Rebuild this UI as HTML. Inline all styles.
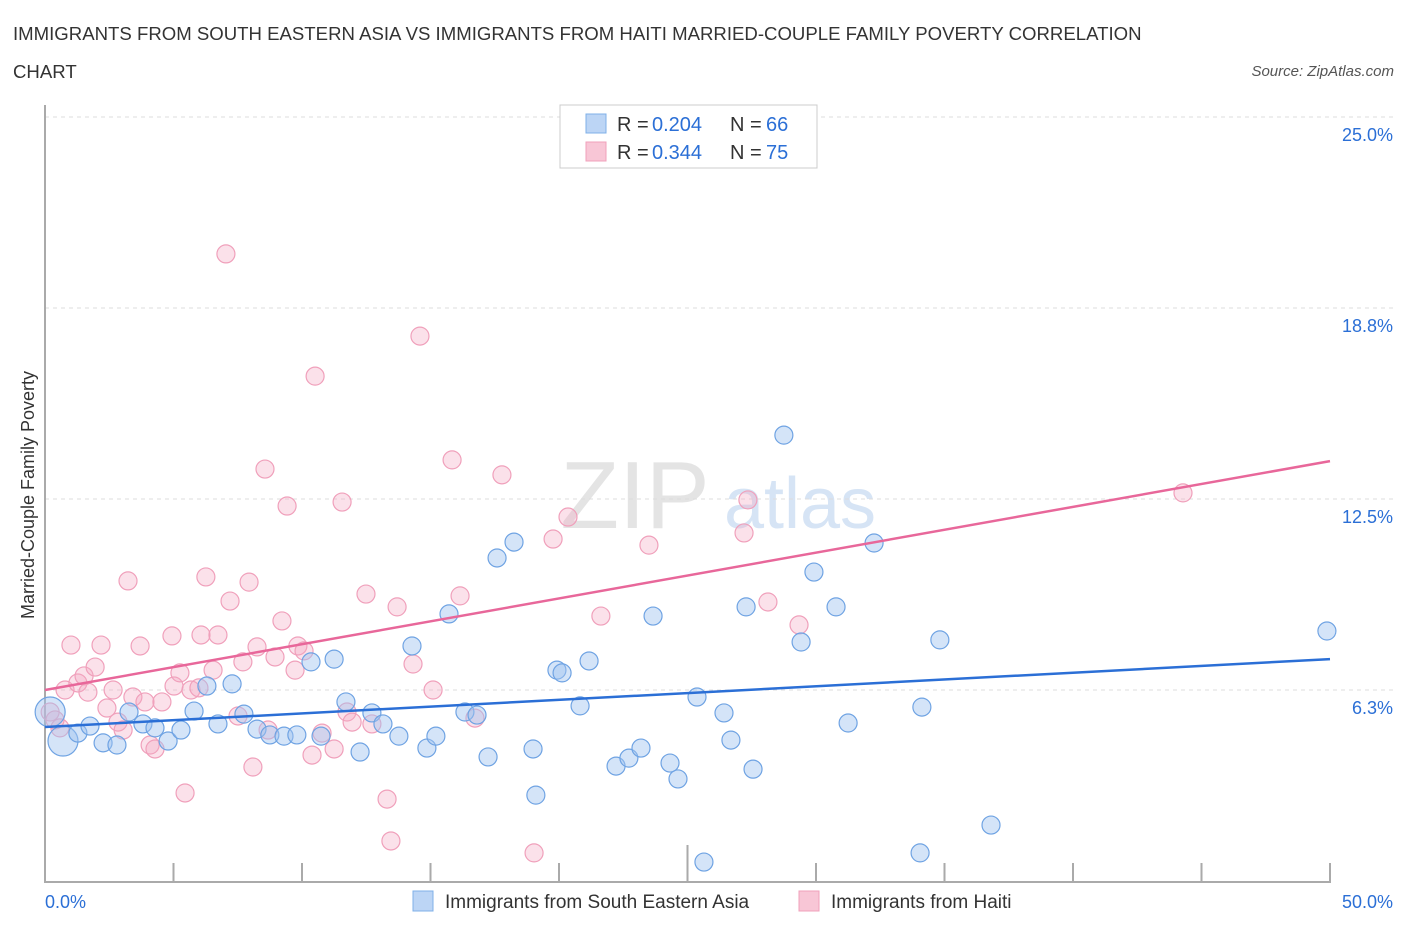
<!DOCTYPE html>
<html><head><meta charset="utf-8"><style>
body{margin:0;background:#fff;font-family:"Liberation Sans",sans-serif;}
svg text{font-family:"Liberation Sans",sans-serif;}
</style></head><body>
<svg id="chart" width="1406" height="930">
<text x="13" y="40" font-size="18.6" fill="#333">IMMIGRANTS FROM SOUTH EASTERN ASIA VS IMMIGRANTS FROM HAITI MARRIED-COUPLE FAMILY POVERTY CORRELATION</text>
<text x="13" y="78" font-size="18.6" fill="#333">CHART</text>
<text x="1394" y="76" font-size="15" fill="#555" font-style="italic" text-anchor="end">Source: ZipAtlas.com</text>
<text x="635" y="528" font-size="96" fill="#e4e4e4" font-family="Liberation Serif" text-anchor="middle">ZIP</text>
<text x="800" y="528" font-size="72" fill="#d6e4f5" text-anchor="middle">atlas</text>
<text transform="translate(34,495) rotate(-90)" font-size="18" fill="#333" text-anchor="middle">Married-Couple Family Poverty</text>
<g id="grid"></g><g id="axes"></g><g id="pts"></g><g id="lines"></g>
<g>
<rect x="560" y="105" width="257" height="63" fill="#fff" stroke="#ccc"/>
<rect x="586" y="114" width="20" height="19" fill="#bcd5f5" stroke="#7fb0e8"/>
<rect x="586" y="142" width="20" height="19" fill="#f8c6d6" stroke="#f0a0bb"/>
<text x="617" y="131" font-size="20" fill="#333">R =</text>
<text x="652" y="131" font-size="20" fill="#2b6fd6">0.204</text>
<text x="730" y="131" font-size="20" fill="#333">N =</text>
<text x="766" y="131" font-size="20" fill="#2b6fd6">66</text>
<text x="617" y="159" font-size="20" fill="#333">R =</text>
<text x="652" y="159" font-size="20" fill="#2b6fd6">0.344</text>
<text x="730" y="159" font-size="20" fill="#333">N =</text>
<text x="766" y="159" font-size="20" fill="#2b6fd6">75</text>
</g>
<g>
<rect x="413" y="891" width="20" height="20" fill="#bcd5f5" stroke="#7fb0e8"/>
<text x="445" y="908" font-size="19" fill="#333">Immigrants from South Eastern Asia</text>
<rect x="799" y="891" width="20" height="20" fill="#f8c6d6" stroke="#f0a0bb"/>
<text x="831" y="908" font-size="19" fill="#333">Immigrants from Haiti</text>
</g>
</svg>
<script>
const yTicks=[6.25,12.5,18.75,25];
const yTickLabels=["6.3%","12.5%","18.8%","25.0%"];
const xTickVals=[0,5,10,15,20,25,30,35,40,45,50];
const blueX=[0.2,0.7,1.28,1.75,2.26,2.8,3.27,3.81,4.28,4.79,5.29,5.8,6.3,6.73,7.28,7.74,8.25,8.75,9.3,9.8,10.35,10.74,11.25,11.71,12.26,12.72,13.15,13.77,14.28,14.86,15.21,15.72,16.34,16.81,17.24,17.59,18.25,18.99,19.1,19.92,20.12,20.82,21.17,22.22,22.72,23.19,23.66,24.32,24.63,25.37,25.64,26.42,26.69,27.28,27.55,28.75,29.42,29.92,30.78,31.25,32.26,34.05,34.12,34.82,36.81,49.88];
const blueY=[5.53,4.58,4.84,5.07,4.52,4.45,5.53,5.14,5.01,4.58,4.94,5.56,6.38,5.14,6.45,5.46,4.97,4.78,4.74,4.78,7.17,4.74,7.26,5.86,4.22,5.5,5.14,4.74,7.69,4.35,4.74,8.74,5.53,5.43,4.06,10.57,11.09,4.32,2.81,6.9,6.81,5.73,7.2,3.76,4.02,4.35,8.67,3.86,3.34,6.02,0.62,5.5,4.61,8.97,3.66,14.59,7.82,10.11,8.97,5.17,11.06,0.92,5.69,7.89,1.83,8.18];
const pinkX=[0.2,0.39,0.58,0.78,1.01,1.28,1.52,1.67,1.95,2.18,2.41,2.65,2.84,3.04,3.23,3.42,3.7,3.89,4.09,4.28,4.55,4.94,5.02,5.25,5.45,5.68,5.99,6.07,6.26,6.54,6.73,7.04,7.2,7.51,7.7,7.94,8.09,8.25,8.56,8.68,8.95,9.22,9.42,9.73,9.84,10.08,10.39,10.51,10.78,11.25,11.56,11.75,11.95,12.49,12.72,13.31,13.46,13.7,14.32,14.59,15.1,15.84,16.15,16.73,17.78,19.03,19.77,20.35,21.63,23.5,27.2,27.35,28.13,29.34,44.28];
const pinkY=[5.53,5.27,5.01,6.25,7.72,6.48,6.71,6.18,7.0,7.72,5.66,6.25,5.2,4.94,9.82,6.02,7.69,5.86,4.45,4.32,5.86,8.02,6.38,6.81,2.88,6.25,6.32,8.05,9.95,6.9,8.05,20.52,9.16,5.4,7.17,9.78,3.73,7.66,13.48,4.94,7.33,8.51,12.27,6.9,7.69,7.53,4.12,16.52,4.84,4.32,12.4,5.53,5.2,9.39,5.14,2.68,1.31,8.97,7.1,17.83,6.25,13.78,9.33,5.33,13.29,0.92,11.19,11.91,8.67,10.99,11.39,12.47,9.13,8.38,12.7];
const blueLine=[5.04,7.26];
const pinkLine=[6.25,13.74];
const NS="http://www.w3.org/2000/svg";
const X0=45,X1=1330,Y0=881,Y1=117;
const sx=v=>X0+v/50*(X1-X0);
const sy=v=>Y0-v/25*(Y0-Y1);
function mk(t,a,p){const e=document.createElementNS(NS,t);for(const k in a)e.setAttribute(k,a[k]);p.appendChild(e);return e;}
const grid=document.getElementById('grid'),axes=document.getElementById('axes'),pts=document.getElementById('pts'),lines=document.getElementById('lines');
yTicks.forEach((v,i)=>{
 const l=mk('line',{x1:X0,x2:1395,y1:sy(v),y2:sy(v),stroke:'#ddd','stroke-dasharray':'4,4'},grid);
 
 
 const t=mk('text',{x:1393,y:sy(v)+24,'font-size':18,fill:'#2b6fd6','text-anchor':'end'},grid);
 t.textContent=yTickLabels[i];
 
 
});
const ax=mk('path',{d:`M${X0} ${Y1-12}V${Y0+1}H${X1+1}`,fill:'none',stroke:'#aaa','stroke-width':2},axes);


xTickVals.forEach(v=>{
 const tk=mk('line',{x1:sx(v),x2:sx(v),y1:v==25?845:863,y2:Y0,stroke:'#aaa','stroke-width':2},axes);
 
 
});
[[0,'0.0%','start',45],[50,'50.0%','end',1393]].forEach(a=>{
 const t=mk('text',{x:a[3],y:908,'font-size':18,fill:'#2b6fd6','text-anchor':a[2]},axes);
 t.textContent=a[1];
 
 
});
function dots(xs,ys,fill,stroke,name){
 xs.forEach((x,i)=>{
  const r=(name==='point-sea'&&i<2)?15:9;
  const c=mk('circle',{cx:sx(x),cy:sy(ys[i]),r:r,fill:fill,stroke:stroke,'stroke-width':1.2},pts);
  
  
 });
}
dots(pinkX,pinkY,'rgba(244,170,195,0.35)','#f0a0bb','point-haiti');
dots(blueX,blueY,'rgba(160,196,240,0.45)','#6fa3e3','point-sea');
const bl=mk('line',{x1:sx(0),x2:sx(50),y1:sy(blueLine[0]),y2:sy(blueLine[1]),stroke:'#2b6fd6','stroke-width':2.5},lines);


const pl=mk('line',{x1:sx(0),x2:sx(50),y1:sy(pinkLine[0]),y2:sy(pinkLine[1]),stroke:'#e8679a','stroke-width':2.5},lines);


</script>
</body></html>
